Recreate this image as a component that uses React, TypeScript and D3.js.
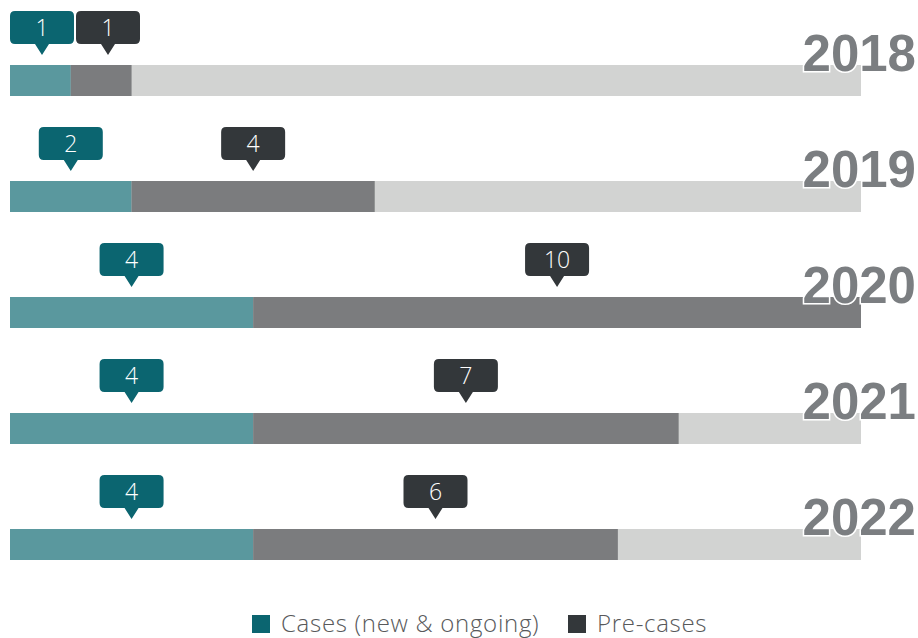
import React from "react";
import * as d3 from "d3";

const years = ["2018", "2019", "2020", "2021", "2022"];
const cases = [1, 2, 4, 4, 4];
const preCases = [1, 4, 10, 7, 6];
const maxTotal = 14;
const seriesNames = ["Cases (new & ongoing)", "Pre-cases"];

const W = 918;
const H = 638;
const COL_CASES_BAR = "#5a989e";
const COL_PRE_BAR = "#7b7c7e";
const COL_BG = "#d2d3d2";
const COL_CASES_TAG = "#0b6570";
const COL_PRE_TAG = "#33373a";
const COL_YEAR = "#7b7e81";

export default function App() {
  const x = d3.scaleLinear().domain([0, maxTotal]).range([10, 861]);
  const y = d3.scaleBand().domain(years).range([65 - 42.5, 645 - 42.5]).paddingInner(0);
  const barH = 31;
  const tagW = 64;
  const tagH = 33;

  const tag = (cx: number, top: number, fill: string, label: number, key: string) => {
    const tipY = top - 10;
    const rectBottom = tipY - 11;
    const rectTop = rectBottom - tagH;
    const r = 5;
    const l = cx - tagW / 2;
    const rr = cx + tagW / 2;
    const p = d3.path();
    p.moveTo(l + r, rectTop);
    p.lineTo(rr - r, rectTop);
    p.quadraticCurveTo(rr, rectTop, rr, rectTop + r);
    p.lineTo(rr, rectBottom - r);
    p.quadraticCurveTo(rr, rectBottom, rr - r, rectBottom);
    p.lineTo(cx + 7, rectBottom);
    p.lineTo(cx, tipY);
    p.lineTo(cx - 7, rectBottom);
    p.lineTo(l + r, rectBottom);
    p.quadraticCurveTo(l, rectBottom, l, rectBottom - r);
    p.lineTo(l, rectTop + r);
    p.quadraticCurveTo(l, rectTop, l + r, rectTop);
    p.closePath();
    return (
      <g key={key}>
        <path d={p.toString()} fill={fill} />
        <text
          x={cx}
          y={(rectTop + rectBottom) / 2 + 8}
          textAnchor="middle"
          fill="#fff"
          fontFamily="'Open Sans', sans-serif"
          fontWeight={300}
          fontSize={23}
        >
          {label}
        </text>
      </g>
    );
  };

  return (
    <svg width={W} height={H} style={{ position: "absolute", left: 0, top: 0 }}>
      {years.map((yr, i) => {
        const top = (y(yr) as number) + 42.5;
        const x0 = x(0);
        const x1 = x(cases[i]);
        const x2 = x(cases[i] + preCases[i]);
        let c1 = (x0 + x1) / 2;
        let c2 = (x1 + x2) / 2;
        if (c2 - c1 < tagW + 2) {
          c1 = Math.max(c1, x0 + tagW / 2);
          c2 = c1 + tagW + 2;
        }
        return (
          <g key={yr}>
            <rect x={x0} y={top} width={x(maxTotal) - x0} height={barH} fill={COL_BG} />
            <rect x={x0} y={top} width={x1 - x0} height={barH} fill={COL_CASES_BAR} />
            <rect x={x1} y={top} width={x2 - x1} height={barH} fill={COL_PRE_BAR} />
            <text
              x={916}
              y={top + 6}
              textAnchor="end"
              fill={COL_YEAR}
              stroke="#fff"
              strokeWidth={3}
              paintOrder="stroke"
              fontFamily="'Liberation Sans', Arial, sans-serif"
              fontWeight={700}
              fontSize={51}
            >
              {yr}
            </text>
            {tag(c1, top, COL_CASES_TAG, cases[i], "c")}
            {tag(c2, top, COL_PRE_TAG, preCases[i], "p")}
          </g>
        );
      })}
      <g>
        <rect x={252} y={615} width={18} height={18} fill={COL_CASES_TAG} />
        <text x={281} y={632} fill="#58595b" fontFamily="'Open Sans', sans-serif" fontWeight={300} fontSize={24} letterSpacing={0.7}>
          {seriesNames[0]}
        </text>
        <rect x={568} y={615} width={18} height={18} fill={COL_PRE_TAG} />
        <text x={597} y={632} fill="#58595b" fontFamily="'Open Sans', sans-serif" fontWeight={300} fontSize={24} letterSpacing={0.7}>
          {seriesNames[1]}
        </text>
      </g>
    </svg>
  );
}
